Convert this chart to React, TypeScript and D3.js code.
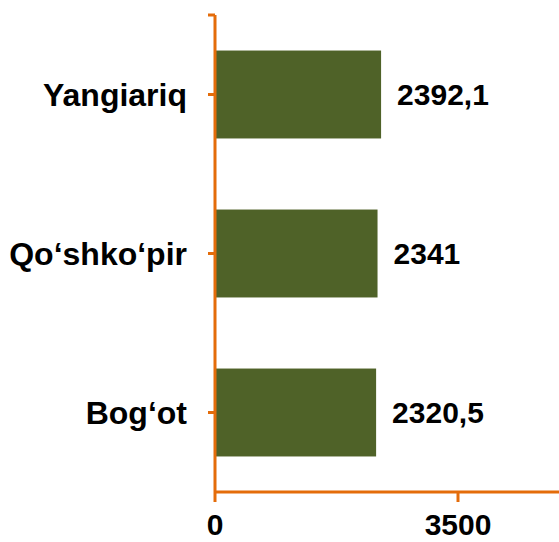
import React, { useEffect, useRef } from 'react';
import * as d3 from 'd3';

// districts, top to bottom
const districts = ['Yangiariq', 'Qo‘shko‘pir', 'Bog‘ot'];
const values = [2392.1, 2341, 2320.5];
const xTicks = [0, 3500];

const ORANGE = '#E46C0A';
const BAR = '#4F6228';
const FONT = 'Arial, "Liberation Sans", sans-serif';

const App = () => {
  const svgRef = useRef<SVGSVGElement>(null);

  useEffect(() => {
    const width = 559;
    const height = 542;

    const svg = d3.select(svgRef.current);
    svg.selectAll('*').remove();
    svg.attr('width', width).attr('height', height);

    const data = districts.map((name, i) => ({ name, value: values[i] }));

    // axis runs past the right edge (next tick would be 7000)
    const x = d3.scaleLinear().domain([0, 7000]).range([215, 701]);
    const y = d3.scaleBand()
      .domain(districts)
      .range([15, 492])
      .paddingInner(0.447)
      .paddingOuter(0.2235);

    const fmt = d3.formatLocale({ decimal: ',', thousands: ' ', grouping: [3], currency: ['', ''] }).format('~f');

    // bars
    svg.append('g')
      .selectAll('rect')
      .data(data)
      .enter()
      .append('rect')
      .attr('x', x(0))
      .attr('y', d => y(d.name)!)
      .attr('width', d => x(d.value) - x(0))
      .attr('height', y.bandwidth())
      .attr('fill', BAR);

    // y axis line + ticks
    const axis = svg.append('g').attr('stroke', ORANGE).attr('stroke-width', 3);
    axis.append('line')
      .attr('x1', x(0)).attr('x2', x(0))
      .attr('y1', y.range()[0]).attr('y2', y.range()[1]);
    axis.append('line')
      .attr('x1', x(0) - 7).attr('x2', x(0))
      .attr('y1', y.range()[0]).attr('y2', y.range()[0]);
    axis.selectAll('.ytick')
      .data(districts)
      .enter()
      .append('line')
      .attr('x1', x(0) - 7).attr('x2', x(0))
      .attr('y1', d => y(d)! + y.bandwidth() / 2)
      .attr('y2', d => y(d)! + y.bandwidth() / 2);

    // x axis line + ticks
    axis.append('line')
      .attr('x1', x(0)).attr('x2', width + 5)
      .attr('y1', y.range()[1]).attr('y2', y.range()[1]);
    axis.selectAll('.xtick')
      .data(xTicks)
      .enter()
      .append('line')
      .attr('x1', d => x(d)).attr('x2', d => x(d))
      .attr('y1', y.range()[1]).attr('y2', y.range()[1] + 10);

    // category labels
    svg.append('g')
      .selectAll('text')
      .data(districts)
      .enter()
      .append('text')
      .attr('x', 187)
      .attr('y', d => y(d)! + y.bandwidth() / 2)
      .attr('dy', '0.35em')
      .attr('text-anchor', 'end')
      .style('font-family', FONT)
      .style('font-weight', 'bold')
      .style('font-size', '32px')
      .text(d => d);

    // value labels
    svg.append('g')
      .selectAll('text')
      .data(data)
      .enter()
      .append('text')
      .attr('x', d => x(d.value) + 16)
      .attr('y', d => y(d.name)! + y.bandwidth() / 2)
      .attr('dy', '0.35em')
      .style('font-family', FONT)
      .style('font-weight', 'bold')
      .style('font-size', '30px')
      .text(d => fmt(d.value));

    // x tick labels, kept just inside the bottom edge
    svg.append('g')
      .selectAll('text')
      .data(xTicks)
      .enter()
      .append('text')
      .attr('x', d => x(d))
      .attr('y', 535)
      .attr('text-anchor', 'middle')
      .style('font-family', FONT)
      .style('font-weight', 'bold')
      .style('font-size', '30px')
      .text(d => String(d));
  }, []);

  return (
    <svg ref={svgRef} style={{ position: 'absolute', left: 0, top: 0, background: '#fff' }}></svg>
  );
};

export default App;
